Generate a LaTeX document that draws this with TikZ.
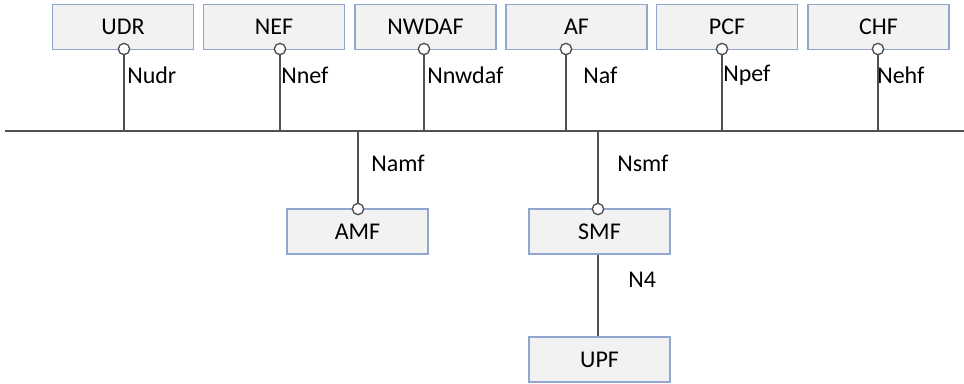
\documentclass[tikz,border=0pt]{standalone}
\usepackage{fontspec}
\setmainfont{Carlito}
\begin{document}
\begin{tikzpicture}[x=0.75pt,y=-0.75pt,
  nfbox/.style={draw=boxblue,fill=boxfill,line width=1.1pt,minimum width=105.75pt,
    minimum height=33.75pt,inner sep=0pt,font=\fontsize{18}{20}\selectfont,text=black},
  port/.style={circle,draw=linegray,fill=white,line width=1pt,minimum size=8.5pt,inner sep=0pt},
  link/.style={draw=linegray,line width=1.3pt},
  iflabel/.style={anchor=west,inner sep=0pt,font=\fontsize{18}{20}\selectfont,text=black}]
\definecolor{boxblue}{HTML}{8FA6CF}
\definecolor{boxfill}{HTML}{F2F2F2}
\definecolor{linegray}{HTML}{505050}
\useasboundingbox (0,0) rectangle (964,383);

% service bus
\coordinate (busL) at (5,131);
\coordinate (busR) at (964,131);
\draw[link] (busL) -- (busR);

% top network functions
\node[nfbox] (udr)   at (123,27)   {UDR};
\node[nfbox] (nef)   at (274,27)   {NEF};
\node[nfbox] (nwdaf) at (425.5,27) {NWDAF};
\node[nfbox] (af)    at (576.5,27) {AF};
\node[nfbox] (pcf)   at (727,27)   {PCF};
\node[nfbox] (chf)   at (878.5,27) {CHF};

% lower network functions
\node[nfbox] (amf) at (357.5,231.5) {AMF};
\node[nfbox] (smf) at (599.5,231.5) {SMF};
\node[nfbox] (upf) at (599.5,359.5) {UPF};

% service interfaces of the top functions
\foreach \n/\x in {udr/124,nef/280,nwdaf/424,af/566,pcf/722,chf/878}{
  \node[port] (p\n) at (\x,49) {};
  \draw[link] (p\n.south) -- (p\n |- busL);
}
% service interfaces of AMF and SMF
\node[port] (pamf) at (358,209) {};
\node[port] (psmf) at (598,209) {};
\draw[link] (pamf.north) -- (pamf |- busL);
\draw[link] (psmf.north) -- (psmf |- busL);

% N4 reference point
\draw[link] (smf.south -| psmf) -- (upf.north -| psmf);

% interface labels
\node[iflabel] at (127,75) {Nudr};
\node[iflabel] at (281,75) {Nnef};
\node[iflabel] at (427,75) {Nnwdaf};
\node[iflabel] at (583,75) {Naf};
\node[iflabel] at (723,75) {Npef};
\node[iflabel] at (877,75) {Nehf};
\node[iflabel] at (371,163) {Namf};
\node[iflabel] at (617,163) {Nsmf};
\node[iflabel] at (628,280) {N4};
\end{tikzpicture}
\end{document}
